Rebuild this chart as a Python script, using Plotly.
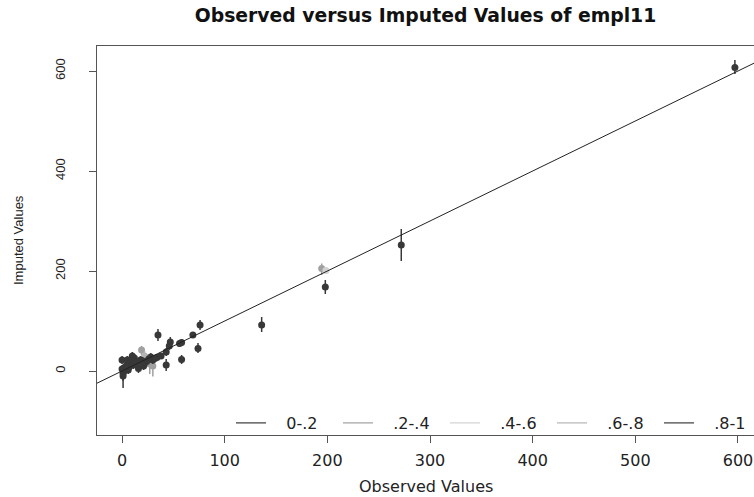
import plotly.graph_objects as go

# ---- data ----
group_labels = ["0-.2", ".2-.4", ".4-.6", ".6-.8", ".8-1"]
group_colors = ["#383838", "#a0a0a0", "#d2d2d2", "#b4b4b4", "#3c3c3c"]

g0_obs = [597, 272, 198, 136, 76, 74, 69, 58, 58, 56, 47, 46, 43, 43, 35, 34, 30, 26, 24, 21,
          18, 16, 14, 12, 11, 10, 9, 8, 7, 6, 5, 4, 3, 2, 1, 0, 0, 1, 20, 28, 32, 38, 15, 5]
g0_imp = [607, 252, 168, 92, 92, 45, 72, 57, 23, 55, 58, 50, 38, 12, 72, 27, 22, 24, 19, 10,
          22, 5, 18, 26, 12, 30, 24, 15, 8, 2, 22, 10, 8, 0, -5, 22, 4, -10, 20, 28, 25, 30, 14, 5]
g0_lo = [594, 220, 154, 78, 82, 36, 66, 50, 14, 48, 50, 42, 30, 0, 60, 20, 14, 16, 10, 2,
         14, -4, 10, 18, 4, 22, 16, 6, 0, -6, 14, 2, 0, -8, -34, 14, -4, -20, 12, 20, 18, 24, 6, -3]
g0_hi = [622, 284, 182, 108, 102, 56, 78, 64, 32, 62, 68, 60, 46, 24, 84, 34, 30, 32, 28, 18,
         30, 14, 26, 34, 20, 38, 32, 24, 16, 10, 30, 18, 16, 8, 10, 30, 12, 0, 28, 36, 32, 36, 22, 13]

g1_obs = [194.5, 19, 27, 30, 12]
g1_imp = [205, 42, 14, 10, 18]
g1_lo = [192, 32, -6, -11, 8]
g1_hi = [215, 50, 28, 20, 28]

g2_obs = [198.6]
g2_imp = [201]
g2_lo = [194]
g2_hi = [208]

g3_obs = [22]
g3_imp = [30]
g3_lo = [20]
g3_hi = [40]

g4_obs = []
g4_imp = []
g4_lo = []
g4_hi = []

x_ticks = [0, 100, 200, 300, 400, 500, 600]
y_ticks = [0, 200, 400, 600]

groups = [
    (g0_obs, g0_imp, g0_lo, g0_hi),
    (g1_obs, g1_imp, g1_lo, g1_hi),
    (g2_obs, g2_imp, g2_lo, g2_hi),
    (g3_obs, g3_imp, g3_lo, g3_hi),
    (g4_obs, g4_imp, g4_lo, g4_hi),
]

fig = go.Figure()

# points with vertical CI bars
draw_order = [1, 2, 3, 4, 0]
for gi in draw_order:
    obs, imp, lo, hi = groups[gi]
    if not obs:
        continue
    col = group_colors[gi]
    fig.add_trace(go.Scatter(
        x=obs, y=imp, mode="markers",
        marker=dict(size=7, color=col, line=dict(width=0)),
        error_y=dict(type="data", symmetric=False,
                     array=[h - m for h, m in zip(hi, imp)],
                     arrayminus=[m - l for m, l in zip(imp, lo)],
                     color=col, thickness=1.5, width=0),
        showlegend=False, hoverinfo="skip"))

# y = x reference line
xr = [-24.4, 615.6]
fig.add_trace(go.Scatter(x=xr, y=xr, mode="lines",
                         line=dict(color="#222222", width=1),
                         showlegend=False, hoverinfo="skip"))

# legend entries
nb = "\u00a0"
for lab, col in zip(group_labels, group_colors):
    fig.add_trace(go.Scatter(x=[None], y=[None], mode="lines",
                             line=dict(color=col, width=1.2),
                             name=nb * 3 + lab, showlegend=True))

wide_font = dict(family="DejaVu Sans, sans-serif", size=16, color="#222222")
rot_font = dict(family="Liberation Sans, Arial, sans-serif", size=13, color="#222222")

fig.update_layout(
    width=754, height=497,
    margin=dict(l=97, r=0, t=46, b=62, autoexpand=False),
    paper_bgcolor="white", plot_bgcolor="white",
    font=wide_font,
    title=dict(text="<b>Observed versus Imputed Values of empl11</b>",
               x=0.5, xref="paper", xanchor="center",
               y=1 - 15 / 497, yref="container", yanchor="middle",
               font=dict(family="DejaVu Sans, sans-serif", size=18.8, color="#111111")),
    xaxis=dict(range=xr, tickvals=x_ticks, ticktext=[str(v) for v in x_ticks],
               showgrid=False, zeroline=False,
               showline=True, mirror=True, linecolor="#555555", linewidth=1,
               ticks="outside", ticklen=7, tickcolor="#555555", tickwidth=1,
               ticklabelstandoff=4, tickfont=wide_font),
    yaxis=dict(range=[-128, 650], tickvals=y_ticks, ticktext=[str(v) for v in y_ticks],
               showgrid=False, zeroline=False,
               showline=True, mirror=False, linecolor="#555555", linewidth=1,
               ticks="outside", ticklen=7, tickcolor="#555555", tickwidth=1,
               tickangle=-90, ticklabelstandoff=19, tickfont=rot_font),
    legend=dict(orientation="h", x=(231 - 97) / 657, xanchor="left",
                y=(435 - 423) / 389, yanchor="middle",
                bgcolor="rgba(0,0,0,0)", borderwidth=0,
                entrywidth=62, entrywidthmode="pixels",
                font=wide_font),
    annotations=[
        dict(text="Observed Values", xref="paper", yref="paper",
             x=0.5, y=-(486 - 435) / 389, xanchor="center", yanchor="middle",
             showarrow=False, font=wide_font),
        dict(text="Imputed Values", xref="paper", yref="paper",
             x=-(97 - 18) / 657, y=(435 - 240) / 389, xanchor="center", yanchor="middle",
             textangle=-90, showarrow=False, font=rot_font),
    ],
)

fig.write_html("out.html")
